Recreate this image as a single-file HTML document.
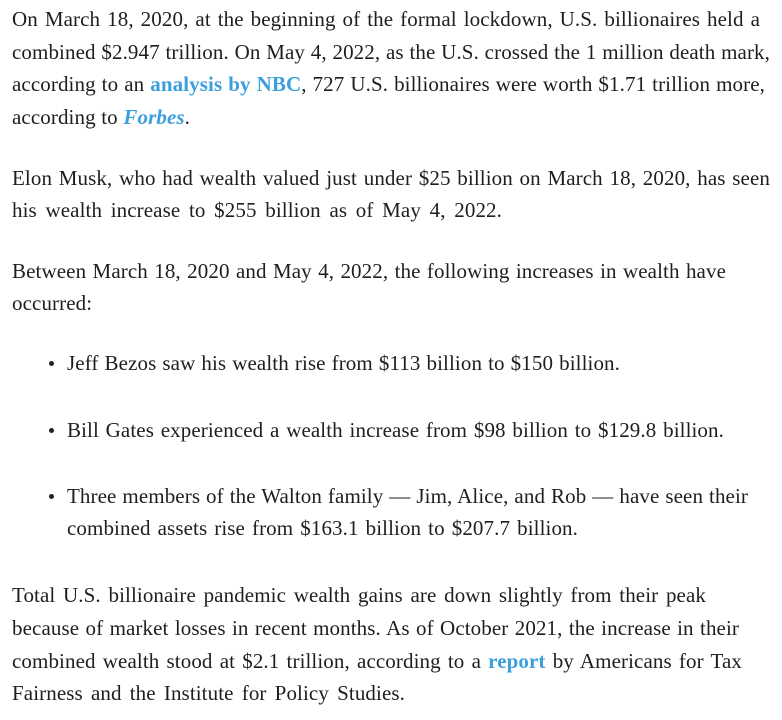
<!DOCTYPE html>
<html><head><meta charset="utf-8"><style>
html,body{margin:0;padding:0;background:#fff;width:782px;height:720px;overflow:hidden}
body{position:relative;font-family:"Liberation Serif",serif;font-size:21px;letter-spacing:0.1px;color:#1e1e1e}
.l{position:absolute;height:33px;line-height:33px;white-space:nowrap;text-align:justify;text-align-last:justify}
a{color:#3a9fdc;font-weight:bold;text-decoration:none}
.b{position:absolute;width:5px;height:5px;border-radius:50%;background:#222;left:49px}
</style></head><body>
<div class="l" style="top:3px;left:12px;width:748px">On March 18, 2020, at the beginning of the formal lockdown, U.S. billionaires held a</div>
<div class="l" style="top:36px;left:12px;width:758px">combined $2.947 trillion. On May 4, 2022, as the U.S. crossed the 1 million death mark,</div>
<div class="l" style="top:68px;left:12px;width:753px">according to an <a>analysis by NBC</a>, 727 U.S. billionaires were worth $1.71 trillion more,</div>
<div class="l" style="top:101px;left:12px;width:178px">according to <a><i>Forbes</i></a>.</div>

<div class="l" style="top:162px;left:12px;width:758px">Elon Musk, who had wealth valued just under $25 billion on March 18, 2020, has seen</div>
<div class="l" style="top:194px;left:12px;width:490px">his wealth increase to $255 billion as of May 4, 2022.</div>

<div class="l" style="top:255px;left:12px;width:714px">Between March 18, 2020 and May 4, 2022, the following increases in wealth have</div>
<div class="l" style="top:287px;left:12px;width:86px">occurred:</div>

<div class="b" style="top:361px"></div>
<div class="l" style="top:347px;left:67px;width:553px">Jeff Bezos saw his wealth rise from $113 billion to $150 billion.</div>
<div class="b" style="top:428px"></div>
<div class="l" style="top:414px;left:67px;width:657px">Bill Gates experienced a wealth increase from $98 billion to $129.8 billion.</div>
<div class="b" style="top:494px"></div>
<div class="l" style="top:480px;left:67px;width:681px">Three members of the Walton family — Jim, Alice, and Rob — have seen their</div>
<div class="l" style="top:512px;left:67px;width:511px">combined assets rise from $163.1 billion to $207.7 billion.</div>

<div class="l" style="top:579px;left:12px;width:694px">Total U.S. billionaire pandemic wealth gains are down slightly from their peak</div>
<div class="l" style="top:612px;left:12px;width:727px">because of market losses in recent months. As of October 2021, the increase in their</div>
<div class="l" style="top:645px;left:12px;width:730px">combined wealth stood at $2.1 trillion, according to a <a>report</a> by Americans for Tax</div>
<div class="l" style="top:677px;left:12px;width:393px">Fairness and the Institute for Policy Studies.</div>
</body></html>
